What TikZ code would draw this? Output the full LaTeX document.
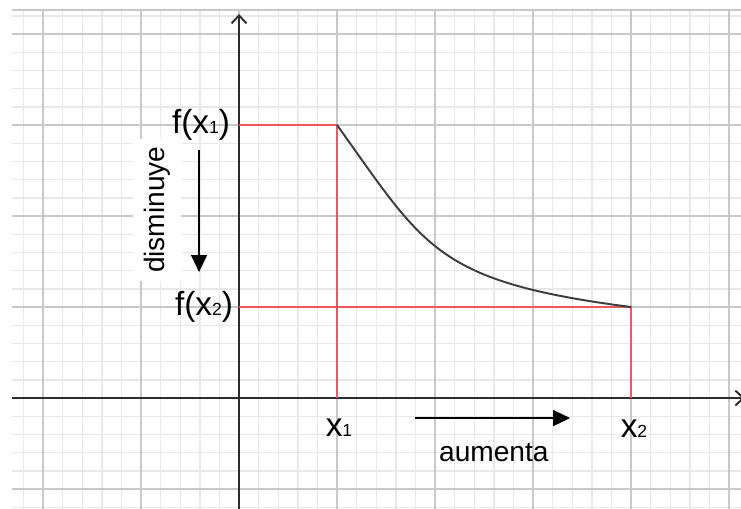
\documentclass[tikz,border=0pt]{standalone}
\usepackage{fontspec}
\setmainfont{Liberation Sans}
\usetikzlibrary{arrows.meta}
\definecolor{gridmajor}{RGB}{200,200,200}
\definecolor{gridminor}{RGB}{232,232,232}
\definecolor{levelred}{RGB}{238,86,96}
\definecolor{curvegray}{RGB}{60,60,60}
\definecolor{axisgray}{RGB}{45,45,45}
\newcommand{\lowidx}[1]{{\fontsize{10}{10}\selectfont #1}}

\begin{document}
\begin{tikzpicture}[x=1.96cm, y=1.82cm,
	lbl/.style={font=\fontsize{19}{20}\selectfont, text=black, inner sep=1pt},
	word/.style={font=\fontsize{16}{18}\selectfont, text=black},
	level/.style={levelred, line width=0.9pt},
	>={Triangle[length=3.4mm, width=3.2mm]}]
	\useasboundingbox (-2.439,-1.209) rectangle (5.122,4.374);
	% squared paper
	\begin{scope}
		\clip (-2.316,-1.209) rectangle (5.2,4.264);
		\draw[gridminor, line width=0.8pt, step=0.2] (-2.4,-1.4) grid (5.4,4.4);
		\draw[gridmajor, line width=0.8pt, step=1] (-3,-2) grid (6,5);
	\end{scope}
	\draw[gridmajor, line width=0.8pt] (-2.316,4.264) -- (5.2,4.264);
	% axes
	\coordinate (xl) at (-2.316,0);
	\coordinate (xr) at (5.16,0);
	\coordinate (yb) at (0,-1.25);
	\coordinate (yt) at (0,4.22);
	\draw[axisgray, line width=1.1pt, -{Straight Barb[length=1.6mm, width=3mm]}] (yb) -- (yt);
	\draw[axisgray, line width=1.1pt, -{Straight Barb[length=1.6mm, width=3mm]}] (xl) -- (xr);
	% the two points and their levels
	\coordinate (A) at (1,3);
	\coordinate (B) at (4,1);
	\coordinate (Ay) at (0,3);
	\coordinate (By) at (0,1);
	\coordinate (Ax) at (1,0);
	\coordinate (Bx) at (4,0);
	\draw[level] (Ay) -- (A) -- (Ax);
	\draw[level] (By) -- (B) -- (Bx);
	\draw[curvegray, line width=1.1pt] (A) .. controls (1.9,1.65) and (2.0,1.28) .. (B);
	% labels
	\node[lbl, anchor=east] (fx1) at (-0.07,3) {f(x\lowidx{1})};
	\node[lbl, anchor=east] (fx2) at (-0.04,1) {f(x\lowidx{2})};
	\node[lbl] (x1) at (1.02,-0.33) {x\lowidx{1}};
	\node[lbl] (x2) at (4.03,-0.34) {x\lowidx{2}};
	% trends
	\node[word, rotate=90, fill=white, minimum width=2.84cm, minimum height=0.96cm] (down) at (-0.837,2.07) {disminuye};
	\coordinate (d1) at (-0.408,2.725);
	\coordinate (d2) at (-0.408,1.385);
	\draw[->, line width=0.8pt] (d1) -- (d2);
	\node[word] (up) at (2.60,-0.60) {aumenta};
	\coordinate (a1) at (1.796,-0.22);
	\coordinate (a2) at (3.378,-0.22);
	\draw[->, line width=0.8pt] (a1) -- (a2);
\end{tikzpicture}
\end{document}
